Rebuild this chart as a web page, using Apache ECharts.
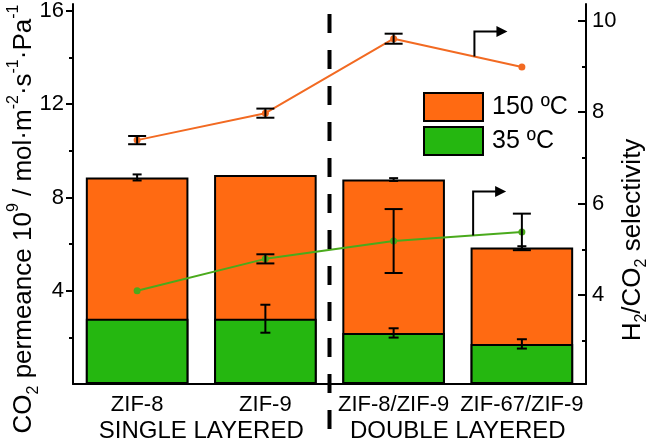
<!DOCTYPE html>
<html>
<head>
<meta charset="utf-8">
<script src="https://cdn.jsdelivr.net/npm/echarts@6/dist/echarts.min.js"></script>
<style>
html,body{margin:0;padding:0;background:#fff;}
#c{width:661px;height:443px;}
</style>
</head>
<body>
<div id="c"></div>
<script>
// ---- data ----
const categories = ['ZIF-8', 'ZIF-9', 'ZIF-8/ZIF-9', 'ZIF-67/ZIF-9'];
const groups = ['SINGLE LAYERED', 'DOUBLE LAYERED'];
const perm150 = [8.86, 8.97, 8.77, 5.85];
const perm150Err = [0.13, 0, 0.06, 0.06];
const perm35 = [2.80, 2.80, 2.19, 1.72];
const perm35Err = [0, 0.6, 0.2, 0.2];
const sel150 = [7.39, 7.98, 9.61, 8.99];
const sel150Err = [0.09, 0.1, 0.11, 0];
const sel35 = [4.09, 4.79, 5.18, 5.38];
const sel35Err = [0, 0.1, 0.7, 0.4];
const leftTicks = [4, 8, 12, 16];
const leftMinor = [2, 6, 10, 14];
const rightTicks = [4, 6, 8, 10];
const rightMinor = [3, 5, 7, 9];

const FONT = 'Liberation Sans, Arial, sans-serif';
const ORANGE = '#FF6A12';
const GREEN = '#25B710';
const ORANGE_LINE = '#F26A22';
const GREEN_LINE = '#4AAA1C';

function errData(vals, errs) {
  const out = [];
  vals.forEach((v, i) => { if (errs[i] > 0) out.push([i, v - errs[i], v + errs[i]]); });
  return out;
}
function errSeries(vals, errs, yIdx, cap) {
  return {
    type: 'custom', yAxisIndex: yIdx, z: 10,
    data: errData(vals, errs),
    renderItem: function (params, api) {
      const x = api.value(0);
      const lo = api.coord([x, api.value(1)]);
      const hi = api.coord([x, api.value(2)]);
      const st = { stroke: '#000', lineWidth: 2 };
      return {
        type: 'group', children: [
          { type: 'line', shape: { x1: lo[0], y1: lo[1], x2: hi[0], y2: hi[1] }, style: st },
          { type: 'line', shape: { x1: lo[0] - cap / 2, y1: lo[1], x2: lo[0] + cap / 2, y2: lo[1] }, style: st },
          { type: 'line', shape: { x1: hi[0] - cap / 2, y1: hi[1], x2: hi[0] + cap / 2, y2: hi[1] }, style: st }
        ]
      };
    }
  };
}

const chart = echarts.init(document.getElementById('c'));
const axisLine = { show: true, lineStyle: { color: '#000', width: 2 } };

const option = {
  animation: false,
  textStyle: { fontFamily: FONT },
  grid: { left: 73, right: 75, top: 4, bottom: 59, containLabel: false, outerBoundsMode: 'none' },
  legend: {
    data: ['150 ºC', '35 ºC'],
    orient: 'vertical', left: 418, top: 87, itemGap: 4,
    itemWidth: 59, itemHeight: 28, icon: 'rect',
    itemStyle: { borderColor: '#000', borderWidth: 2 },
    textStyle: { fontSize: 25, color: '#000', fontFamily: FONT, padding: [0, 0, 0, 4] }
  },
  xAxis: [
    {
      type: 'category', data: categories,
      axisLine: axisLine,
      axisTick: { alignWithLabel: true, length: 7, lineStyle: { color: '#000', width: 2 } },
      axisLabel: { fontSize: 22, color: '#000', margin: 10, fontFamily: FONT, interval: 0 }
    },
    {
      type: 'category', data: groups, position: 'bottom', offset: 25,
      axisLine: { show: false }, axisTick: { show: false },
      axisLabel: { fontSize: 24, color: '#000', margin: 10, fontFamily: FONT, interval: 0 }
    }
  ],
  yAxis: [
    {
      type: 'value', min: 0, max: 16.3, position: 'left',
      axisLine: axisLine, splitLine: { show: false },
      axisTick: { show: true, length: 7, customValues: leftTicks, lineStyle: { color: '#000', width: 2 } },
      axisLabel: { fontSize: 22, color: '#000', margin: 9, customValues: leftTicks, fontFamily: FONT },
      name: '{a|CO}{sub|2}{a| permeance 10}{sup|9}{a| / mol·m}{sup|-2}{a|·s}{sup|-1}{a|·Pa}{sup|-1}',
      nameLocation: 'middle', nameRotate: 90, nameGap: 31, nameMoveOverlap: false,
      nameTextStyle: {
        color: '#000', padding: [0, 50, 0, 0],
        rich: {
          a: { fontSize: 26, lineHeight: 36, fontFamily: FONT, color: '#000' },
          sup: { fontSize: 16, lineHeight: 16, verticalAlign: 'top', fontFamily: FONT, color: '#000' },
          sub: { fontSize: 16, lineHeight: 16, verticalAlign: 'bottom', fontFamily: FONT, color: '#000' }
        }
      }
    },
    {
      type: 'value', min: 2.05, max: 10.37, position: 'right',
      axisLine: axisLine, splitLine: { show: false },
      axisTick: { show: true, inside: true, length: 8, customValues: rightTicks, lineStyle: { color: '#000', width: 2 } },
      axisLabel: { fontSize: 22, color: '#000', margin: 6, customValues: rightTicks, fontFamily: FONT },
      name: '{a|H}{sub|2}{a|/CO}{sub|2}{a| selectivity}',
      nameLocation: 'middle', nameRotate: 90, nameGap: 30, nameMoveOverlap: false,
      nameTextStyle: {
        color: '#000', padding: [0, 92, 0, 0],
        rich: {
          a: { fontSize: 26, lineHeight: 34, fontFamily: FONT, color: '#000' },
          sub: { fontSize: 16, lineHeight: 16, verticalAlign: 'bottom', fontFamily: FONT, color: '#000' }
        }
      }
    },
    {
      type: 'value', min: 0, max: 16.3, position: 'left',
      axisLine: { show: false }, splitLine: { show: false },
      axisTick: { show: true, length: 4, customValues: leftMinor, lineStyle: { color: '#000', width: 2 } },
      axisLabel: { show: false }
    },
    {
      type: 'value', min: 2.05, max: 10.37, position: 'right',
      axisLine: { show: false }, splitLine: { show: false },
      axisTick: { show: true, inside: true, length: 4, customValues: rightMinor, lineStyle: { color: '#000', width: 2 } },
      axisLabel: { show: false }
    }
  ],
  series: [
    {
      name: '150 ºC', type: 'bar', data: perm150, barWidth: '80%', barGap: '-100%',
      itemStyle: { color: ORANGE, borderColor: '#000', borderWidth: 2 }, z: 2
    },
    {
      name: '35 ºC', type: 'bar', data: perm35, barWidth: '80%', barGap: '-100%',
      itemStyle: { color: GREEN, borderColor: '#000', borderWidth: 2 }, z: 3
    },
    {
      name: 'sel150', type: 'line', yAxisIndex: 1, data: sel150, z: 6,
      symbol: 'circle', symbolSize: 7,
      lineStyle: { color: ORANGE_LINE, width: 2 }, itemStyle: { color: ORANGE_LINE }
    },
    {
      name: 'sel35', type: 'line', yAxisIndex: 1, data: sel35, z: 6,
      symbol: 'circle', symbolSize: 7,
      lineStyle: { color: GREEN_LINE, width: 2 }, itemStyle: { color: GREEN_LINE }
    },
    errSeries(perm150, perm150Err, 0, 9),
    errSeries(perm35, perm35Err, 0, 10),
    errSeries(sel150, sel150Err, 1, 18),
    errSeries(sel35, sel35Err, 1, 18)
  ]
};
chart.setOption(option);

// annotations built from the chart's own scales
function px(seriesIndex, i, v) { return chart.convertToPixel({ seriesIndex: seriesIndex }, [i, v]); }
const xb = (chart.convertToPixel({ xAxisIndex: 0 }, categories[1]) + chart.convertToPixel({ xAxisIndex: 0 }, categories[2])) / 2;

function arrow(seriesIndex, vals, t, rise, len) {
  const a = px(seriesIndex, 2, vals[2]);
  const b = px(seriesIndex, 3, vals[3]);
  const sx = a[0] + (b[0] - a[0]) * t;
  const sy = a[1] + (b[1] - a[1]) * t;
  const ty = sy - rise;
  const ex = sx + len;
  return [
    { type: 'polyline', shape: { points: [[sx, sy], [sx, ty], [ex - 10, ty]] }, style: { stroke: '#000', lineWidth: 2, fill: null }, z: 20 },
    { type: 'polygon', shape: { points: [[ex - 11, ty - 5.5], [ex, ty], [ex - 11, ty + 5.5]] }, style: { fill: '#000' }, z: 20 }
  ];
}

chart.setOption({
  graphic: [
    { type: 'line', shape: { x1: xb, y1: 14, x2: xb, y2: 430 }, style: { stroke: '#000', lineWidth: 4, lineDash: [19, 17] }, z: 20 }
  ].concat(arrow(2, sel150, 0.63, 25, 33)).concat(arrow(3, sel35, 0.62, 44, 33))
});
</script>
</body>
</html>
